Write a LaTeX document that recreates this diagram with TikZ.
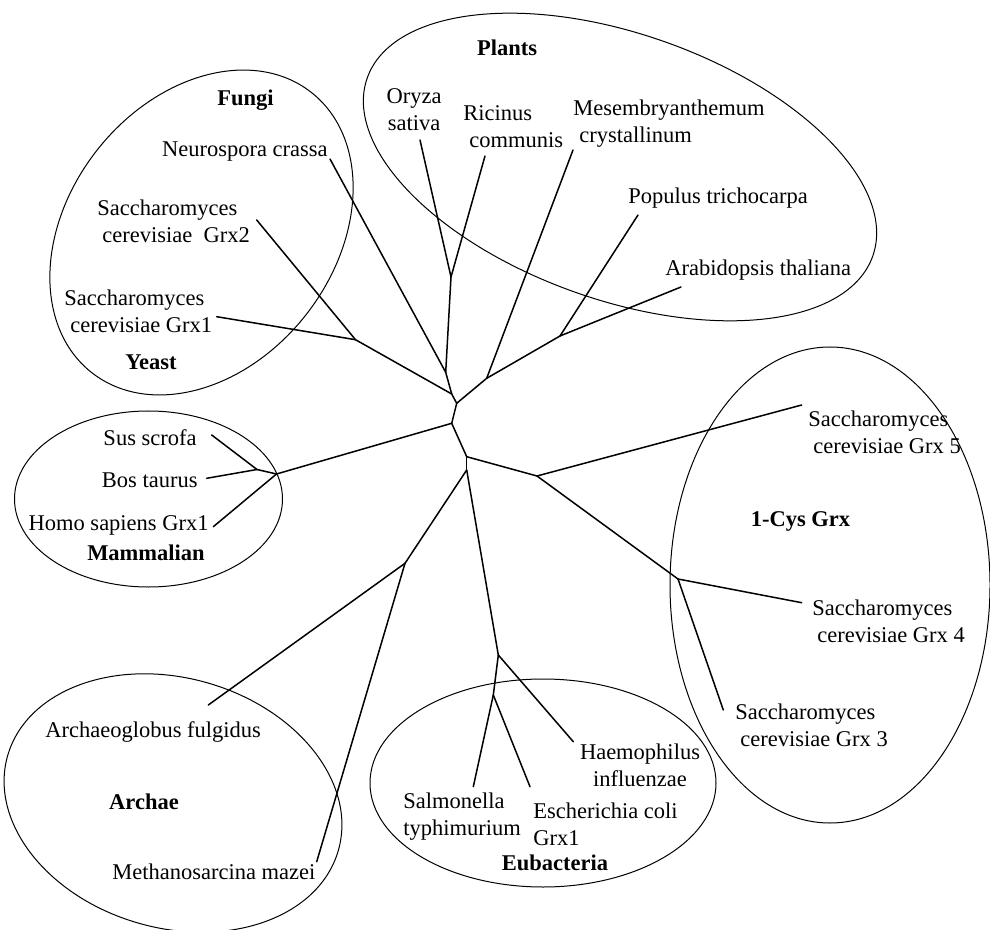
\documentclass[tikz,border=0pt]{standalone}
\usepackage{fontspec}
\setmainfont{Liberation Serif}
\begin{document}
\begin{tikzpicture}[x=0.5pt,y=-0.5pt,
    hull/.style={draw,line width=0.5pt},
    taxon/.style={inner sep=0pt,font=\fontsize{11.25}{13.5}\selectfont},
    clade/.style={inner sep=0pt,font=\fontsize{11.25}{13.5}\selectfont\bfseries}]

        \useasboundingbox (0,0) rectangle (990,930);

        % group outlines
        \draw[hull,rotate around={-19.4:(620,167)}] (620,167) ellipse [x radius=268,y radius=133];
        \draw[hull,rotate around={52:(201.5,232.5)}] (201.5,232.5) ellipse [x radius=178,y radius=133];
        \draw[hull] (148.5,499) ellipse [x radius=134,y radius=88];
        \draw[hull,rotate around={-16:(173,803)}] (173,803) ellipse [x radius=172,y radius=125];
        \draw[hull] (543,783) ellipse [x radius=173,y radius=104];
        \draw[hull] (830,585) ellipse [x radius=160,y radius=238];

        % inner branch points
        \coordinate (pl)  at (445.7,372.3);
        \coordinate (ye)  at (451.7,394);
        \coordinate (pr)  at (456.7,403.3);
        \coordinate (ma)  at (451.7,423.3);
        \coordinate (cy)  at (466.7,456.7);
        \coordinate (ar)  at (466.7,470);
        \coordinate (os)  at (451,277);
        \coordinate (me)  at (486.7,378.3);
        \coordinate (pa)  at (560,336);
        \coordinate (sc)  at (355.5,339.7);
        \coordinate (mm)  at (276.5,474);
        \coordinate (sb)  at (257,469.5);
        \coordinate (g5)  at (537,476);
        \coordinate (g34) at (678,579);
        \coordinate (eu)  at (498.3,655);
        \coordinate (se)  at (493.3,695);
        \coordinate (aa)  at (405,563.3);

        % leaf tips
        \coordinate (t-ory) at (420,140);
        \coordinate (t-ric) at (485,156);
        \coordinate (t-mes) at (573,150);
        \coordinate (t-pop) at (638,215);
        \coordinate (t-ara) at (681,287);
        \coordinate (t-neu) at (330,159);
        \coordinate (t-sc2) at (256.7,220);
        \coordinate (t-sc1) at (216.7,316.7);
        \coordinate (t-sus) at (211.7,435);
        \coordinate (t-bos) at (206.7,478.3);
        \coordinate (t-hom) at (213.3,526.7);
        \coordinate (t-gr5) at (801.7,405);
        \coordinate (t-gr4) at (801.7,602.7);
        \coordinate (t-gr3) at (723.3,710);
        \coordinate (t-hae) at (573.3,741.7);
        \coordinate (t-sal) at (473.3,786.7);
        \coordinate (t-eco) at (530,786.7);
        \coordinate (t-arc) at (208.3,705);
        \coordinate (t-met) at (316.7,861.7);

        \begin{scope}[every node/.style={taxon}]
          \node[align=center]            (ory) at (414,110)   {Oryza\\sativa};
          \node[align=left,anchor=west]  (ric) at (463,126.5) {Ricinus\\\hspace*{3pt}communis};
          \node[align=left,anchor=west]  (mes) at (573,123.5) {Mesembryanthemum\\\hspace*{3pt}crystallinum};
          \node[anchor=west]             (pop) at (628,198)   {Populus trichocarpa};
          \node[anchor=west]             (ara) at (665,270)   {Arabidopsis thaliana};
          \node[anchor=east]             (neu) at (328,152)   {Neurospora crassa};
          \node[align=left,anchor=west]  (sc2) at (97,221)    {Saccharomyces\\\hspace*{2.5pt}cerevisiae\ \ Grx2};
          \node[align=left,anchor=west]  (sc1) at (64,311.5)  {Saccharomyces\\\hspace*{3pt}cerevisiae Grx1};
          \node[anchor=east]             (sus) at (197,438)   {Sus scrofa};
          \node[anchor=east]             (bos) at (198,480)   {Bos taurus};
          \node[anchor=east]             (hom) at (209,525)   {Homo sapiens Grx1};
          \node[align=left,anchor=west]  (gr5) at (808,432)   {Saccharomyces\\\hspace*{2.5pt}cerevisiae Grx 5};
          \node[align=left,anchor=west]  (gr4) at (812,621)   {Saccharomyces\\\hspace*{2.5pt}cerevisiae Grx 4};
          \node[align=left,anchor=west]  (gr3) at (735,725)   {Saccharomyces\\\hspace*{2.5pt}cerevisiae Grx 3};
          \node[align=center]            (hae) at (640,765.5) {Haemophilus\\influenzae};
          \node[align=left,anchor=west]  (sal) at (403,816.5) {Salmonella\\typhimurium};
          \node[align=left,anchor=west]  (eco) at (533,824)   {Escherichia coli\\Grx1};
          \node[anchor=west]             (arc) at (45,732)    {Archaeoglobus fulgidus};
          \node[anchor=west]             (met) at (112,872)   {Methanosarcina mazei};
        \end{scope}

        \begin{scope}[every node/.style={clade}]
          \node (plants) at (507,48)    {Plants};
          \node (fungi)  at (245.5,100) {Fungi};
          \node (yeast)  at (151,362)   {Yeast};
          \node (mammal) at (146,553)   {Mammalian};
          \node (archae) at (144,802)   {Archae};
          \node (onecys) at (800.5,521) {1-Cys Grx};
          \node (eubact) at (555,863)   {Eubacteria};
        \end{scope}

        \begin{scope}[every edge/.style={draw,line width=0.75pt,line cap=round}]
          \path (os)  edge (t-ory) edge (t-ric) edge (pl);
          \path (pl)  edge (t-neu) edge (ye);
          \path (sc)  edge (t-sc2) edge (t-sc1) edge (ye);
          \path (ye)  edge (pr);
          \path (pr)  edge (me) edge (ma);
          \path (me)  edge (t-mes) edge (pa);
          \path (pa)  edge (t-pop) edge (t-ara);
          \path (ma)  edge (mm) edge (cy);
          \path (mm)  edge (sb) edge (t-hom);
          \path (sb)  edge (t-sus) edge (t-bos);
          \path (cy)  edge (g5) edge (ar);
          \path (g5)  edge (t-gr5) edge (g34);
          \path (g34) edge (t-gr4) edge (t-gr3);
          \path (ar)  edge (eu) edge (aa);
          \path (eu)  edge (t-hae) edge (se);
          \path (se)  edge (t-sal) edge (t-eco);
          \path (aa)  edge (t-arc) edge (t-met);
        \end{scope}

\end{tikzpicture}
\end{document}
